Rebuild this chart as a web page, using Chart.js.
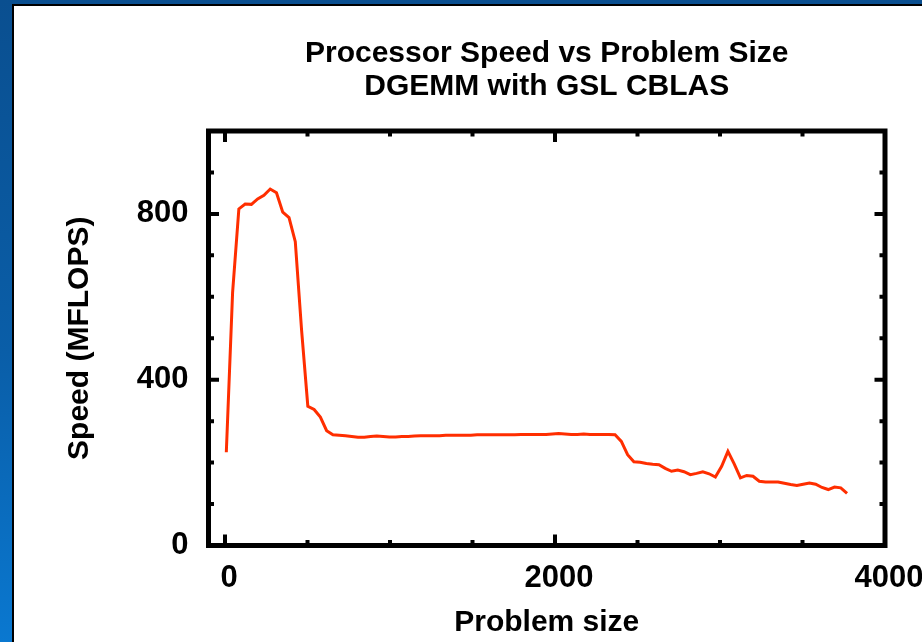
<!DOCTYPE html>
<html>
<head>
<meta charset="utf-8">
<title>Processor Speed vs Problem Size</title>
<script src="https://cdn.jsdelivr.net/npm/chart.js@4.4.1/dist/chart.umd.min.js"></script>
<style>
  html, body { margin: 0; padding: 0; }
  body {
    width: 922px; height: 642px; overflow: hidden;
    background: linear-gradient(180deg, #0a4f90 0%, #0a5ea8 55%, #0a78d0 100%);
  }
  #frame {
    position: absolute; left: 12px; top: 4px;
    width: 910px; height: 638px;
    border-left: 2px solid #000; border-top: 2px solid #000;
    background: #fff;
  }
  canvas { display: block; }
</style>
</head>
<body>
<div id="frame"><canvas id="speed-line" width="908" height="636"></canvas></div>
<script>
////////// DGEMM speed vs problem size

// Data
const problemSizes = [
  8, 46, 84, 122, 160, 198, 236, 274, 312, 350,
  388, 426, 464, 502, 540, 578, 616, 654, 692, 730,
  768, 806, 844, 882, 920, 958, 996, 1034, 1072, 1110,
  1148, 1186, 1224, 1262, 1300, 1338, 1376, 1414, 1452, 1490,
  1528, 1566, 1604, 1642, 1680, 1718, 1756, 1794, 1832, 1870,
  1908, 1946, 1984, 2022, 2060, 2098, 2136, 2174, 2212, 2250,
  2288, 2326, 2364, 2402, 2440, 2478, 2516, 2554, 2592, 2630,
  2668, 2706, 2744, 2782, 2820, 2858, 2896, 2934, 2972, 3010,
  3048, 3086, 3124, 3162, 3200, 3238, 3276, 3314, 3352, 3390,
  3428, 3466, 3504, 3542, 3580, 3618, 3656, 3694, 3732, 3770,
];

const speedMflops = [
  225, 610, 812, 824, 823, 836, 845, 860, 851, 804,
  791, 733, 520, 336, 328, 310, 277, 267, 266, 265,
  263, 261, 261, 263, 264, 263, 262, 262, 263, 263,
  264, 265, 265, 265, 265, 266, 266, 266, 266, 266,
  267, 267, 267, 267, 267, 267, 267, 268, 268, 268,
  268, 268, 269, 270, 269, 268, 268, 269, 268, 268,
  268, 268, 267, 251, 219, 202, 201, 198, 196, 195,
  186, 179, 182, 178, 171, 174, 178, 173, 165, 191,
  227, 197, 163, 169, 167, 155, 153, 153, 153, 150,
  147, 145, 148, 151, 148, 140, 135, 141, 139, 126,
];

const xTicks = [0, 500, 1000, 1500, 2000, 2500, 3000, 3500, 4000];
const xLabels = [0, 2000, 4000];
const yTicks = [0, 100, 200, 300, 400, 500, 600, 700, 800, 900, 1000];
const yLabels = [0, 400, 800];

const FONT = "'Liberation Sans', Arial, Helvetica, sans-serif";

// box + inward tick marks on all four sides
const boxFrame = {
  id: "boxFrame",
  afterDraw(chart) {
    const { ctx, chartArea: a, scales } = chart;
    const x = scales.x;
    const y = scales.y;
    ctx.save();
    ctx.strokeStyle = "#000";
    ctx.lineCap = "butt";
    ctx.lineWidth = 4;
    ctx.beginPath();
    xTicks.forEach((v) => {
      const px = x.getPixelForValue(v);
      const len = xLabels.includes(v) ? 11 : 5.5;
      ctx.moveTo(px, a.bottom);
      ctx.lineTo(px, a.bottom - len);
      ctx.moveTo(px, a.top);
      ctx.lineTo(px, a.top + len);
    });
    yTicks.forEach((v) => {
      const py = y.getPixelForValue(v);
      const len = yLabels.includes(v) ? 10.5 : 5.5;
      ctx.moveTo(a.left, py);
      ctx.lineTo(a.left + len, py);
      ctx.moveTo(a.right, py);
      ctx.lineTo(a.right - len, py);
    });
    ctx.stroke();
    ctx.lineWidth = 5;
    ctx.strokeRect(a.left, a.top, a.right - a.left, a.bottom - a.top);
    ctx.restore();
  },
};

const speedEl = document.getElementById("speed-line").getContext("2d");

const speedLine = new Chart(speedEl, {
  type: "line",
  data: {
    datasets: [
      {
        label: "DGEMM",
        data: problemSizes.map((s, i) => ({ x: s, y: speedMflops[i] })),
        borderColor: "#ff2e00",
        borderWidth: 3,
        pointRadius: 0,
        fill: false,
        tension: 0,
      },
    ],
  },
  options: {
    responsive: false,
    animation: false,
    layout: { padding: { left: 0, top: 0, right: 37, bottom: 0 } },
    plugins: {
      legend: { display: false },
      tooltip: { enabled: false },
      title: {
        display: true,
        fullSize: false,
        text: ["Processor Speed vs Problem Size", "DGEMM with GSL CBLAS"],
        color: "#000",
        font: { family: FONT, size: 30, weight: "bold", lineHeight: 1.1 },
        padding: { top: 31, bottom: 28 },
      },
    },
    scales: {
      x: {
        type: "linear",
        min: -100,
        max: 4000,
        grid: { display: false, drawTicks: false },
        border: { display: false },
        afterBuildTicks: (scale) => {
          scale.ticks = xTicks.map((v) => ({ value: v }));
        },
        afterFit: (scale) => {
          scale.height = 96.5;
          scale.paddingLeft = 0;
          scale.paddingRight = 0;
        },
        ticks: {
          autoSkip: false,
          maxRotation: 0,
          padding: 14,
          labelOffset: 4,
          color: "#000",
          font: { family: FONT, size: 31, weight: "bold" },
          callback: (v) => (xLabels.includes(v) ? String(v) : ""),
        },
        title: {
          display: true,
          text: "Problem size",
          color: "#000",
          font: { family: FONT, size: 30, weight: "bold", lineHeight: 1 },
          padding: { top: 0, bottom: 4 },
        },
      },
      y: {
        type: "linear",
        min: 0,
        max: 1000,
        grid: { display: false, drawTicks: false },
        border: { display: false },
        afterBuildTicks: (scale) => {
          scale.ticks = yTicks.map((v) => ({ value: v }));
        },
        afterFit: (scale) => {
          scale.width = 194.5;
          scale.paddingTop = 0;
          scale.paddingBottom = 0;
        },
        ticks: {
          autoSkip: false,
          padding: 20,
          color: "#000",
          font: { family: FONT, size: 31, weight: "bold" },
          callback: (v) => (yLabels.includes(v) ? String(v) : ""),
        },
        title: {
          display: true,
          text: "Speed (MFLOPS)",
          color: "#000",
          font: { family: FONT, size: 30, weight: "bold", lineHeight: 1 },
          padding: { top: 51, bottom: 0 },
        },
      },
    },
  },
  plugins: [boxFrame],
});
</script>
</body>
</html>
